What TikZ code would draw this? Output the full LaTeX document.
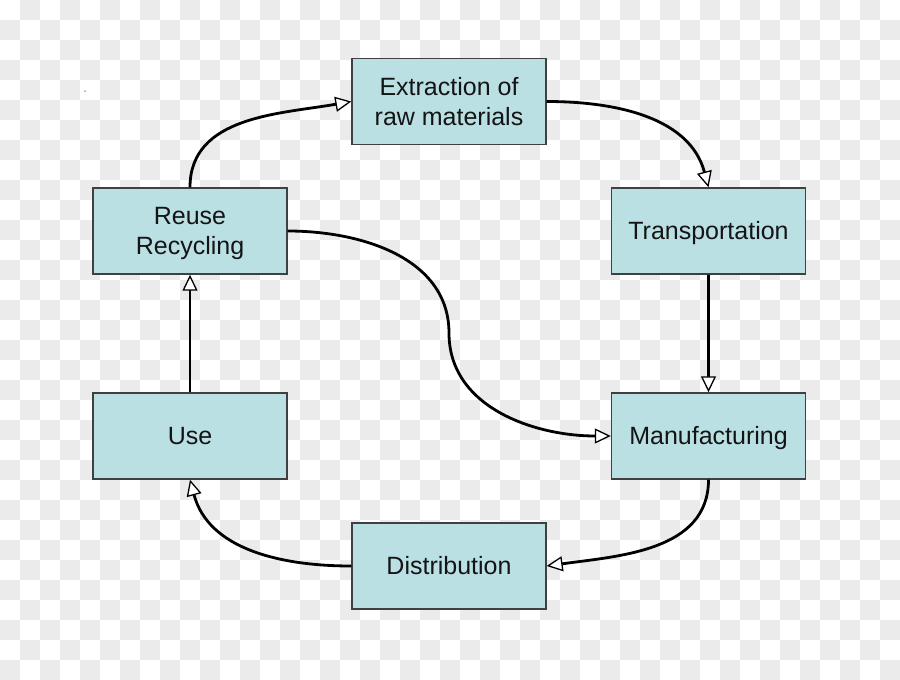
\documentclass[tikz,border=0pt]{standalone}
\usepackage{fontspec}
\setmainfont{Liberation Sans}
\usetikzlibrary{arrows.meta}
\definecolor{boxfill}{RGB}{186,224,228}
\definecolor{boxline}{RGB}{64,64,64}
\definecolor{chk}{RGB}{235,235,235}
\definecolor{txt}{RGB}{20,20,20}
\newcommand\lnstrut{\rule[-5.3pt]{0pt}{27.9pt}}
\tikzset{
  stage/.style={draw=boxline, line width=1.4pt, fill=boxfill, minimum width=194pt, minimum height=86pt,
    align=center, text=txt, font=\fontsize{25}{30}\selectfont, inner sep=0pt},
  flow/.style={line width=2.8pt, draw=black,
    -{Triangle[open, fill=white, length=16pt, width=15pt, line width=1.3pt]}},
}
\begin{document}
\begin{tikzpicture}[x=1pt,y=-1pt]
\useasboundingbox (0,0) rectangle (900,680);
\clip (0,0) rectangle (900,680);
\fill[white] (0,0) rectangle (900,680);
\foreach \j in {0,...,33}{
  \foreach \k in {0,...,22}{
    \fill[chk] ({40*\k+20*mod(\j+1,2)},{20*\j}) rectangle +(20,20);
  }
}
\fill[gray!70] (85,91) circle (1);
\node[stage] (ext) at (449,101.5) {\lnstrut Extraction of\\\lnstrut raw materials};
\node[stage] (tra) at (708.5,231) {\lnstrut Transportation};
\node[stage] (man) at (708.5,436) {\lnstrut Manufacturing};
\node[stage] (dis) at (449,566) {\lnstrut Distribution};
\node[stage] (use) at (190,436) {\lnstrut Use};
\node[stage] (reu) at (190,231) {\lnstrut Reuse\\\lnstrut Recycling};
\coordinate (mid) at (449,333);
\draw[flow] (reu.north) to[out=90,in=190] (ext.west);
\draw[flow] (ext.east) to[out=0,in=105] (tra.north);
\draw[flow] (tra.south) -- (man.north);
\draw[flow] (man.south) to[out=-90,in=8] (dis.east);
\draw[flow] (dis.west) to[out=180,in=-75] (use.south);
\draw[flow] (use.north) -- (reu.south);
\draw[flow] (reu.east) to[out=0,in=90] (mid) to[out=-90,in=180] (man.west);
\end{tikzpicture}
\end{document}
